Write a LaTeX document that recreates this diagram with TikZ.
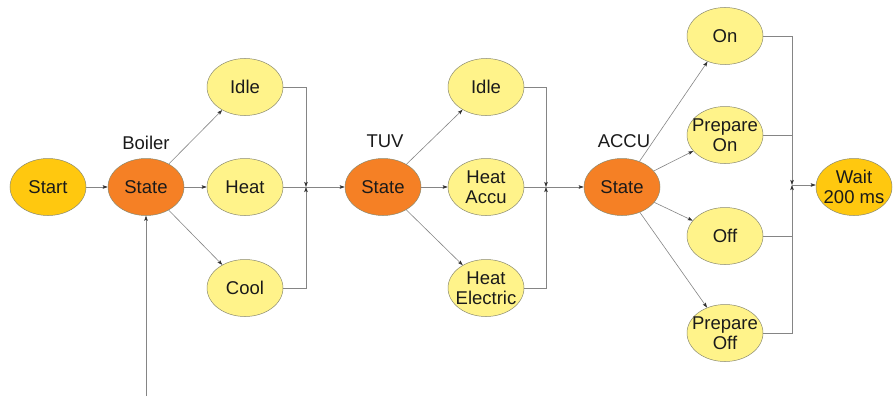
\documentclass[tikz,border=0pt]{standalone}
\usepackage{fontspec}
\setmainfont{Liberation Sans}
\usetikzlibrary{arrows.meta,shapes.geometric}
\definecolor{startfill}{HTML}{FFC80F}
\definecolor{statefill}{HTML}{F58025}
\definecolor{subfill}{HTML}{FFF38A}
\definecolor{rimcol}{HTML}{8A8A70}
\definecolor{wirecol}{HTML}{858585}
\definecolor{tipcol}{HTML}{303030}
\definecolor{inkcol}{HTML}{1A1A1A}
\tikzset{
  blob/.style={ellipse, draw=rimcol, line width=0.5pt, minimum width=76pt, minimum height=57pt,
    inner xsep=-9pt, inner ysep=-3pt, align=center, text=inkcol,
    font=\fontsize{18.5}{20}\selectfont},
  startblob/.style={blob, fill=startfill},
  stateblob/.style={blob, fill=statefill},
  subblob/.style={blob, fill=subfill},
  caption/.style={text=inkcol, font=\fontsize{18.5}{20}\selectfont},
  wire/.style={draw=wirecol, line width=0.6pt},
  flow/.style={wire, -{Stealth[length=5pt,width=3.5pt,inset=1pt,color=tipcol]}},
}
\begin{document}
\begin{tikzpicture}[x=1pt,y=-1pt]
\useasboundingbox (0,0) rectangle (893,396);

% Start and boiler stage
\node[startblob] (start) at (48,187) {Start};
\node[stateblob] (bstate) at (146,187) {State};
\node[caption] (blabel) at (146,143) {Boiler};
\node[subblob] (bidle) at (245,87) {Idle};
\node[subblob] (bheat) at (245,187) {Heat};
\node[subblob] (bcool) at (245,288) {Cool};
\coordinate (bentry) at (146,396);
\coordinate (j1) at (306,187);

% TUV stage
\node[stateblob] (tstate) at (383,187) {State};
\node[caption] (tlabel) at (385,141) {TUV};
\node[subblob] (tidle) at (486,87) {Idle};
\node[subblob] (taccu) at (486,187) {Heat\\Accu};
\node[subblob] (telec) at (486,288) {Heat\\Electric};
\coordinate (j2) at (546,187);

% ACCU stage
\node[stateblob] (astate) at (622,187) {State};
\node[caption] (alabel) at (624,141) {ACCU};
\node[subblob] (aon) at (725,36) {On};
\node[subblob] (apon) at (725,135) {Prepare\\On};
\node[subblob] (aoff) at (725,236) {Off};
\node[subblob] (apoff) at (725,333) {Prepare\\Off};
\coordinate (j3) at (792,185);
\node[startblob] (wait) at (854,187) {Wait\\200 ms};

% connectors
\draw[flow] (start) -- (bstate);
\draw[flow] (bentry) -- (bstate);
\draw[flow] (bstate) -- (bidle);
\draw[flow] (bstate) -- (bheat);
\draw[flow] (bstate) -- (bcool);
\draw[flow] (bidle.east) -| (j1);
\draw[flow] (bcool.east) -| (j1);
\draw[flow] (bheat.east) -- (tstate.west);

\draw[flow] (tstate) -- (tidle);
\draw[flow] (tstate) -- (taccu);
\draw[flow] (tstate) -- (telec);
\draw[flow] (tidle.east) -| (j2);
\draw[flow] (telec.east) -| (j2);
\draw[flow] (taccu.east) -- (astate.west);

\draw[flow] (astate) -- (aon);
\draw[flow] (astate) -- (apon);
\draw[flow] (astate) -- (aoff);
\draw[flow] (astate) -- (apoff);
\draw[flow] (aon.east) -| (j3);
\draw[flow] (apoff.east) -| (j3);
\draw[wire] (apon.east) -- (apon.east -| j3);
\draw[wire] (aoff.east) -- (aoff.east -| j3);
\draw[flow] (j3) -- (j3 -| wait.west);
\end{tikzpicture}
\end{document}
